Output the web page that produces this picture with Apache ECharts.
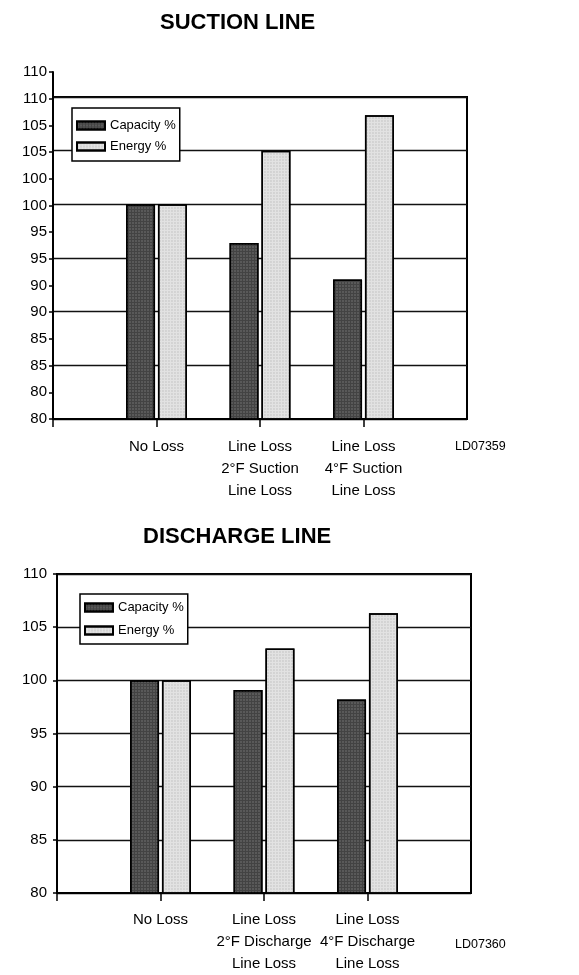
<!DOCTYPE html>
<html>
<head>
<meta charset="utf-8">
<script src="https://cdn.jsdelivr.net/npm/echarts@6/dist/echarts.min.js"></script>
<style>
html,body{margin:0;padding:0;background:#fff;}
#main{width:579px;height:975px;}
</style>
</head>
<body>
<div id="main"></div>
<script>
// categories
var suctionCats = ['No Loss', 'Line Loss\n2°F Suction\nLine Loss', 'Line Loss\n4°F Suction\nLine Loss'];
var dischargeCats = ['No Loss', 'Line Loss\n2°F Discharge\nLine Loss', 'Line Loss\n4°F Discharge\nLine Loss'];
// values (%)
var suctionCapacity = [100, 96.4, 93.0];
var suctionEnergy = [100, 105.0, 108.3];
var dischargeCapacity = [100, 99.1, 98.2];
var dischargeEnergy = [100, 103.0, 106.3];
// tick labels as printed
var suctionTickLabels = ['80', '80', '85', '85', '90', '90', '95', '95', '100', '100', '105', '105', '110', '110'];
var dischargeTickLabels = ['80', '85', '90', '95', '100', '105', '110'];

var FONT = "'Liberation Sans', Arial, sans-serif";

function pts(arr){
    return arr.map(function(v, i){ return [i, v]; });
}

var darkStyle = {
    color: '#434343',
    borderColor: '#000',
    borderWidth: 1.5,
    decal: {symbol: 'rect', symbolSize: 0.6, dashArrayX: [2, 1], dashArrayY: [2, 1], color: 'rgba(255,255,255,0.4)'}
};
var lightStyle = {
    color: '#e2e2e2',
    borderColor: '#000',
    borderWidth: 1.5,
    decal: {symbol: 'rect', symbolSize: 0.6, dashArrayX: [2, 1], dashArrayY: [2, 1], color: 'rgba(110,110,110,0.4)'}
};

function catAxis(gridIndex, cats, margin){
    return {
        gridIndex: gridIndex,
        type: 'value',
        min: -1,
        max: 3,
        interval: 1,
        axisLine: {show: true, onZero: false, lineStyle: {color: '#000', width: 2}},
        axisTick: {show: true, length: 8, customValues: [-1, 0, 1, 2], lineStyle: {color: '#000', width: 1.5}},
        axisLabel: {
            margin: margin,
            fontFamily: FONT,
            fontSize: 15,
            lineHeight: 22,
            color: '#000',
            formatter: function(v){ return cats[v] || ''; }
        },
        splitLine: {show: false}
    };
}

function legendAt(left, top, pad, gap){
    return {
        data: ['Capacity %', 'Energy %'],
        orient: 'vertical',
        left: left,
        top: top,
        padding: pad,
        itemGap: gap,
        itemWidth: 28,
        itemHeight: 8,
        icon: 'rect',
        borderColor: '#000',
        borderWidth: 1.5,
        backgroundColor: '#fff',
        selectedMode: false,
        textStyle: {fontFamily: FONT, fontSize: 13, color: '#000'}
    };
}

var chart = echarts.init(document.getElementById('main'));
var option = {
    animation: false,
    backgroundColor: '#fff',
    title: [
        {text: 'SUCTION LINE', left: 160, top: 12, padding: 0,
            textStyle: {fontFamily: FONT, fontSize: 22, fontWeight: 'bold', color: '#000'}},
        {text: 'DISCHARGE LINE', left: 143, top: 526, padding: 0,
            textStyle: {fontFamily: FONT, fontSize: 22, fontWeight: 'bold', color: '#000'}},
        {text: 'LD07359', left: 455, top: 440, padding: 0,
            textStyle: {fontFamily: FONT, fontSize: 12.5, fontWeight: 'normal', color: '#000'}},
        {text: 'LD07360', left: 455, top: 938, padding: 0,
            textStyle: {fontFamily: FONT, fontSize: 12.5, fontWeight: 'normal', color: '#000'}}
    ],
    legend: [legendAt(72, 108, [11, 4, 8, 4], 8), legendAt(80, 594, [7, 4, 7, 4], 10)],
    grid: [
        // suction plot box
        {left: 53, top: 97, width: 414, height: 322, show: true, borderColor: '#000', borderWidth: 2, backgroundColor: 'transparent'},
        // suction label axis (runs above the box)
        {left: 53, top: 72, width: 414, height: 347},
        // discharge plot box
        {left: 57, top: 574, width: 414, height: 324, show: true, borderColor: '#000', borderWidth: 2, backgroundColor: 'transparent'}
    ],
    xAxis: [
        catAxis(0, suctionCats, 17),
        {gridIndex: 1, type: 'value', min: -1, max: 3, show: false, axisLine: {onZero: false}},
        catAxis(2, dischargeCats, 16)
    ],
    yAxis: [
        {
            gridIndex: 0, type: 'value', min: 80, max: 110, interval: 5,
            axisLine: {show: false, onZero: false}, axisTick: {show: false}, axisLabel: {show: false},
            splitLine: {show: true, lineStyle: {color: '#111', width: 1.3}}
        },
        {
            gridIndex: 1, type: 'value', min: 80, max: 112.5, interval: 2.5,
            axisLine: {show: true, onZero: false, lineStyle: {color: '#000', width: 2}},
            axisTick: {show: true, length: 4, lineStyle: {color: '#000', width: 1.5}},
            axisLabel: {
                margin: 6, fontFamily: FONT, fontSize: 15, color: '#000',
                formatter: function(v, i){ return suctionTickLabels[i]; }
            },
            splitLine: {show: false}
        },
        {
            gridIndex: 2, type: 'value', min: 80, max: 110, interval: 5,
            axisLine: {show: true, onZero: false, lineStyle: {color: '#000', width: 2}},
            axisTick: {show: true, length: 4, lineStyle: {color: '#000', width: 1.5}},
            axisLabel: {
                margin: 10, fontFamily: FONT, fontSize: 15, color: '#000',
                formatter: function(v, i){ return dischargeTickLabels[i]; }
            },
            splitLine: {show: true, lineStyle: {color: '#111', width: 1.3}}
        }
    ],
    series: [
        {name: 'Capacity %', type: 'bar', xAxisIndex: 0, yAxisIndex: 0, barWidth: 29, barGap: '10%',
            itemStyle: darkStyle, data: pts(suctionCapacity)},
        {name: 'Energy %', type: 'bar', xAxisIndex: 0, yAxisIndex: 0, barWidth: 29, barGap: '10%',
            itemStyle: lightStyle, data: pts(suctionEnergy)},
        {name: 'Capacity %', type: 'bar', xAxisIndex: 2, yAxisIndex: 2, barWidth: 29, barGap: '10%',
            itemStyle: darkStyle, data: pts(dischargeCapacity)},
        {name: 'Energy %', type: 'bar', xAxisIndex: 2, yAxisIndex: 2, barWidth: 29, barGap: '10%',
            itemStyle: lightStyle, data: pts(dischargeEnergy)}
    ]
};
chart.setOption(option);
</script>
</body>
</html>
